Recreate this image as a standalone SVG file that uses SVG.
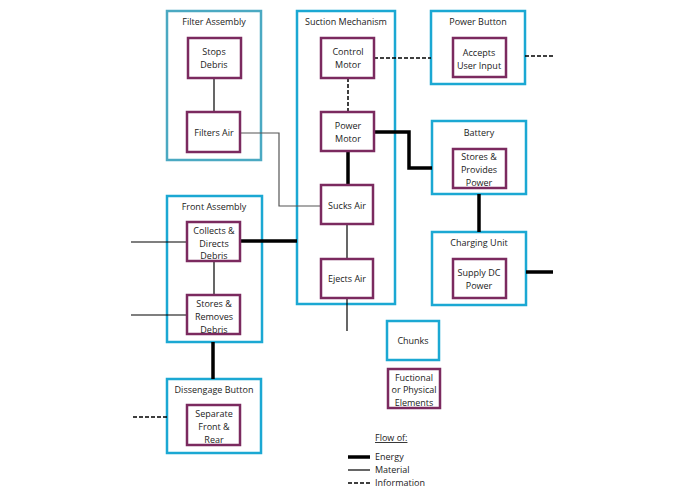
<svg xmlns="http://www.w3.org/2000/svg" width="695" height="494" viewBox="0 0 695 494">
<style>
.ch{fill:#fff;stroke:#1ba8d3;stroke-width:2.5}
.ch2{fill:#fff;stroke:#4ba9c2;stroke-width:2.5}
.el{fill:#fff;stroke:#7b2a5f;stroke-width:2.5}
text{font-family:"Open Sans","Liberation Sans",sans-serif;font-size:9px;fill:#222;text-anchor:middle}
.e{stroke:#000;stroke-width:3.5;fill:none}
.m{stroke:#000;stroke-width:1.2;fill:none}
.mg{stroke:#555;stroke-width:1.2;fill:none}
.i{stroke:#000;stroke-width:1.5;stroke-dasharray:4,2;fill:none}
</style>
<rect width="695" height="494" fill="#fff"/>
<g id="filter-assembly"><rect class="ch2" x="167" y="11" width="94" height="149"/><text x="214" y="25">Filter Assembly</text></g>
<g id="suction-mechanism"><rect class="ch" x="297" y="11" width="98" height="293"/><text x="346" y="25">Suction Mechanism</text></g>
<g id="power-button"><rect class="ch" x="431" y="11" width="94" height="73"/><text x="478" y="25">Power Button</text></g>
<g id="battery"><rect class="ch" x="432" y="121" width="94" height="73"/><text x="479" y="136">Battery</text></g>
<g id="charging-unit"><rect class="ch" x="432" y="232" width="94" height="73"/><text x="479" y="246">Charging Unit</text></g>
<g id="front-assembly"><rect class="ch" x="167" y="196" width="95" height="146"/><text x="214" y="210">Front Assembly</text></g>
<g id="dissengage-button"><rect class="ch" x="167" y="379" width="94" height="74"/><text x="214" y="393">Dissengage Button</text></g>
<g id="connectors">
<line class="m" x1="214" y1="78" x2="214" y2="112"/>
<polyline class="mg" points="240,133 279,133 279,206 321,206"/>
<line class="i" x1="348" y1="78" x2="348" y2="112"/>
<line class="i" x1="374" y1="58" x2="431" y2="58"/>
<line class="i" x1="525" y1="56" x2="555" y2="56"/>
<polyline class="e" points="374,132 409,132 409,168 432,168"/>
<line class="e" x1="348" y1="151" x2="348" y2="185"/>
<line class="m" x1="347" y1="224" x2="347" y2="259"/>
<line class="m" x1="347" y1="298" x2="347" y2="331"/>
<line class="e" x1="240" y1="241" x2="297" y2="241"/>
<line class="m" x1="131" y1="242" x2="187" y2="242"/>
<line class="m" x1="131" y1="315" x2="187" y2="315"/>
<line class="m" x1="214" y1="261" x2="214" y2="295"/>
<line class="e" x1="213" y1="342" x2="213" y2="379"/>
<line class="i" x1="133" y1="417" x2="167" y2="417"/>
<line class="e" x1="479" y1="194" x2="479" y2="232"/>
<line class="e" x1="526" y1="272" x2="553" y2="272"/>
</g>
<g id="stops-debris"><rect class="el" x="188" y="38" width="53" height="40"/><text x="214" y="55">Stops</text><text x="214" y="68">Debris</text></g>
<g id="filters-air"><rect class="el" x="187" y="112" width="53" height="40"/><text x="214" y="136">Filters Air</text></g>
<g id="control-motor"><rect class="el" x="321" y="38" width="53" height="40"/><text x="348" y="55">Control</text><text x="348" y="68">Motor</text></g>
<g id="power-motor"><rect class="el" x="321" y="112" width="53" height="39"/><text x="348" y="129">Power</text><text x="348" y="142">Motor</text></g>
<g id="sucks-air"><rect class="el" x="321" y="185" width="52" height="39"/><text x="347" y="209">Sucks Air</text></g>
<g id="ejects-air"><rect class="el" x="321" y="259" width="52" height="39"/><text x="347" y="282">Ejects Air</text></g>
<g id="accepts-user-input"><rect class="el" x="453" y="38" width="53" height="39"/><text x="479" y="56">Accepts</text><text x="479" y="69">User Input</text></g>
<g id="stores-provides-power"><rect class="el" x="453" y="149" width="53" height="39"/><text x="479" y="160">Stores &amp;</text><text x="479" y="173">Provides</text><text x="479" y="186">Power</text></g>
<g id="supply-dc-power"><rect class="el" x="453" y="259" width="53" height="39"/><text x="479" y="276">Supply DC</text><text x="479" y="289">Power</text></g>
<g id="collects-directs-debris"><rect class="el" x="187" y="222" width="53" height="39"/><text x="214" y="234">Collects &amp;</text><text x="214" y="247">Directs</text><text x="214" y="259">Debris</text></g>
<g id="stores-removes-debris"><rect class="el" x="187" y="295" width="53" height="39"/><text x="214" y="307">Stores &amp;</text><text x="214" y="320">Removes</text><text x="214" y="333">Debris</text></g>
<g id="separate-front-rear"><rect class="el" x="187" y="405" width="53" height="40"/><text x="214" y="417">Separate</text><text x="214" y="430">Front &amp;</text><text x="214" y="443">Rear</text></g>
<g id="legend-chunks"><rect class="ch" x="387" y="321" width="52" height="39"/><text x="413" y="344">Chunks</text></g>
<g id="legend-elements"><rect class="el" x="388" y="369" width="52" height="39"/><text x="414" y="381">Fuctional</text><text x="414" y="393">or Physical</text><text x="414" y="406">Elements</text></g>
<g id="legend">
<text x="375" y="441" style="text-anchor:start;text-decoration:underline">Flow of:</text>
<line class="e" x1="348" y1="457" x2="370" y2="457"/><text x="375" y="460" style="text-anchor:start">Energy</text>
<line class="m" x1="348" y1="470" x2="370" y2="470"/><text x="375" y="473" style="text-anchor:start">Material</text>
<line class="i" x1="348" y1="483" x2="370" y2="483"/><text x="375" y="486" style="text-anchor:start">Information</text>
</g>
</svg>
